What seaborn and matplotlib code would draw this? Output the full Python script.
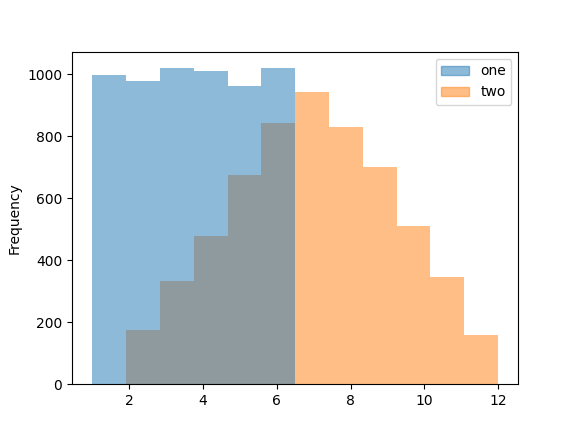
import matplotlib
matplotlib.use("Agg")
import matplotlib.pyplot as plt
import matplotlib.patches as mpatches
import pandas as pd
import seaborn as sns

one_values = [1, 2, 3, 4, 5, 6]
one_counts = [997, 980, 1022, 1010, 962, 1022]
two_values = [2, 3, 4, 5, 6, 7, 8, 9, 10, 11, 12]
two_counts = [177, 335, 480, 675, 843, 942, 830, 703, 510, 348, 160]

df = pd.concat([
    pd.DataFrame({"value": one_values, "count": one_counts, "series": "one"}),
    pd.DataFrame({"value": two_values, "count": two_counts, "series": "two"}),
])

colors = {"one": "#1f77b4", "two": "#ff7f0e"}

fig, ax = plt.subplots(figsize=(5.76, 4.32), dpi=100)
sns.histplot(
    data=df, x="value", weights="count", hue="series", palette=colors,
    bins=12, binrange=(1, 12), alpha=0.5, edgecolor="none", linewidth=0,
    legend=False, ax=ax,
)
ax.set_xlabel("")
ax.set_ylabel("Frequency")
handles = [mpatches.Patch(color=colors[s], alpha=0.5, label=s) for s in ["one", "two"]]
ax.legend(handles=handles, loc="upper right")
fig.savefig("out.png")
